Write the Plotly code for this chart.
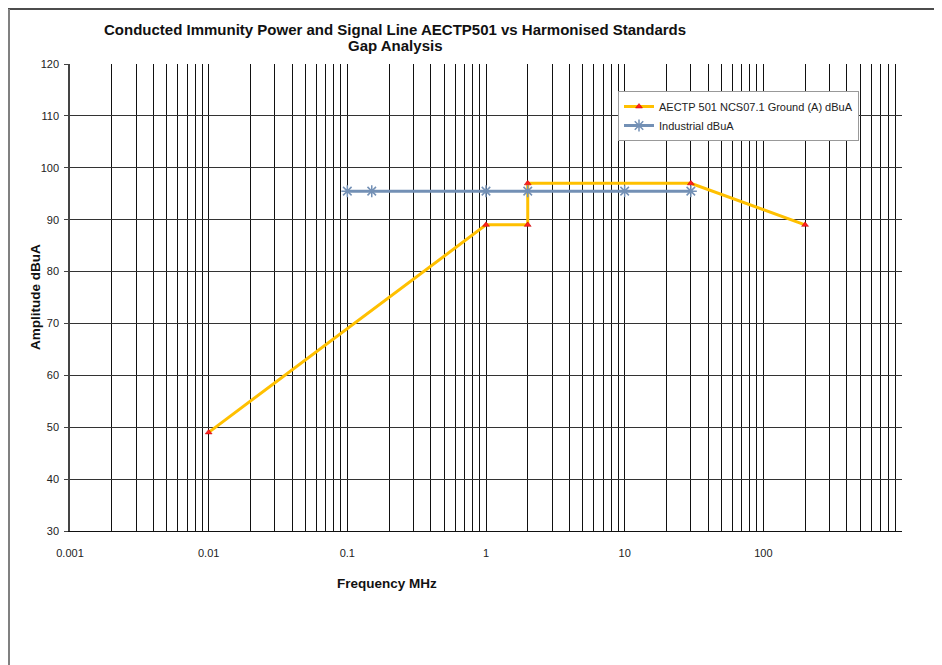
import plotly.graph_objects as go

# ---- data ----
aectp_freq = [0.01, 1, 2, 2, 30, 200]
aectp_amp = [49, 89, 89, 97, 97, 89]
industrial_freq = [0.1, 0.15, 1, 2, 10, 30]
industrial_amp = [95.5, 95.5, 95.5, 95.5, 95.5, 95.5]

decades = [0.001, 0.01, 0.1, 1, 10, 100]
decade_labels = ["0.001", "0.01", "0.1", "1", "10", "100"]
y_ticks = [30, 40, 50, 60, 70, 80, 90, 100, 110, 120]

# log grid values (1..9 per decade) with labels only on decades
grid_vals, grid_text = [], []
for d, lab in zip(decades, decade_labels):
    for m in range(1, 10):
        grid_vals.append(d * m)
        grid_text.append(lab if m == 1 else "")
grid_vals.append(1000)
grid_text.append("")

OFF = 8  # page body margin
W, H = 942 - OFF, 665 - OFF
# target plot area in screenshot pixels: x 70..902, y 64..531
L, T = 70 - OFF, 64 - OFF
R = W - (902 - OFF)
B = H - (531 - OFF)
pw, ph = W - L - R, H - T - B


def px(xs):
    return (xs - OFF - L) / pw


def py(ys):
    return (H - B - (ys - OFF)) / ph


FONT = "Liberation Sans, Arial, sans-serif"

fig = go.Figure()
fig.add_trace(go.Scatter(
    x=aectp_freq, y=aectp_amp, mode="lines+markers",
    name="AECTP 501 NCS07.1 Ground (A) dBuA",
    line=dict(color="#FFC000", width=3),
    marker=dict(symbol="triangle-up", size=6, color="#FF2020",
                line=dict(color="#C00000", width=0.5)),
))
fig.add_trace(go.Scatter(
    x=industrial_freq, y=industrial_amp, mode="lines+markers",
    name="Industrial dBuA",
    line=dict(color="#7390B5", width=3),
    marker=dict(symbol="asterisk-open", size=10,
                line=dict(color="#7390B5", width=1.5)),
))

fig.update_layout(
    width=W, height=H, autosize=False,
    margin=dict(l=L, r=R, t=T, b=B),
    paper_bgcolor="white", plot_bgcolor="white",
    font=dict(family=FONT, size=11, color="#222"),
    showlegend=True,
    legend=dict(x=px(618), y=py(141), xanchor="left", yanchor="bottom",
                bgcolor="white", bordercolor="#999", borderwidth=1,
                font=dict(size=11, family=FONT, color="#222"),
                itemwidth=30, tracegroupgap=0),
    xaxis=dict(type="log", range=[-3, 3], tickmode="array",
               tickvals=grid_vals, ticktext=grid_text,
               showgrid=True, gridcolor="#111", gridwidth=1,
               showline=True, linecolor="#111", linewidth=1,
               ticks="", zeroline=False, tickfont=dict(size=11),
               ticklabelstandoff=12),
    yaxis=dict(range=[30, 120], tickmode="array", tickvals=y_ticks,
               showgrid=True, gridcolor="#333", gridwidth=1,
               showline=True, linecolor="#444", linewidth=1.5,
               ticks="outside", ticklen=4, tickcolor="#444",
               zeroline=False, tickfont=dict(size=11),
               ticklabelstandoff=3),
    annotations=[
        dict(text="<b>Conducted Immunity Power and Signal Line AECTP501 vs Harmonised Standards</b>",
             x=px(395), y=py(30), xref="paper", yref="paper",
             xanchor="center", yanchor="middle", showarrow=False,
             font=dict(size=15, family=FONT, color="#111")),
        dict(text="<b>Gap Analysis</b>",
             x=px(395), y=py(46), xref="paper", yref="paper",
             xanchor="center", yanchor="middle", showarrow=False,
             font=dict(size=15, family=FONT, color="#111")),
        dict(text="<b>Frequency MHz</b>", x=px(387), y=py(583),
             xref="paper", yref="paper", xanchor="center", yanchor="middle",
             showarrow=False, font=dict(size=13.5, family=FONT, color="#111")),
        dict(text="<b>Amplitude dBuA</b>", x=px(35), y=py(297),
             xref="paper", yref="paper", xanchor="center", yanchor="middle",
             textangle=-90, showarrow=False,
             font=dict(size=13.5, family=FONT, color="#111")),
    ],
    shapes=[
        dict(type="line", xref="paper", yref="paper",
             x0=px(8), x1=px(942), y0=py(9), y1=py(9),
             line=dict(color="#111", width=1.5)),
        dict(type="line", xref="paper", yref="paper",
             x0=px(9), x1=px(9), y0=py(9), y1=py(665),
             line=dict(color="#808080", width=2)),
    ],
)

fig.write_html("out.html")
